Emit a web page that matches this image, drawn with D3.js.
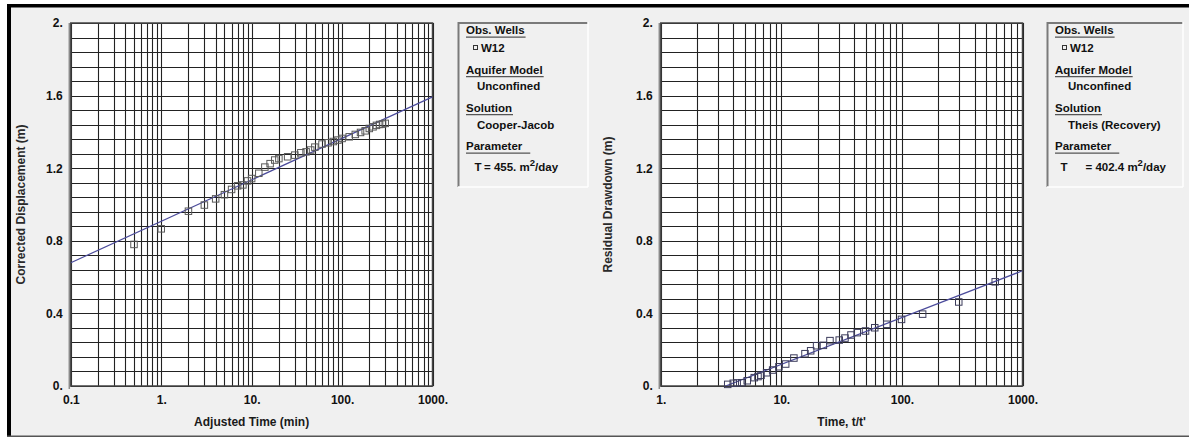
<!DOCTYPE html>
<html>
<head>
<meta charset="utf-8">
<script src="https://cdn.jsdelivr.net/npm/d3@7"></script>
<style>
body { margin: 0; background: #fff; }
svg text { font-family: "Liberation Sans", Arial, sans-serif; font-weight: bold; }
</style>
</head>
<body>
<svg id="chart" width="1189" height="439"></svg>
<script>
// left plot: Cooper-Jacob, corrected displacement vs adjusted time
const cjTime = [0.5, 1, 2, 3, 4, 5, 6, 7, 8, 9, 10, 12, 14, 16, 18, 20, 25, 30, 35, 40, 45, 50,
    60, 70, 80, 90, 100, 120, 140, 160, 180, 200, 220, 240, 260, 280, 300];
const cjDisp = [0.78, 0.866, 0.963, 0.997, 1.031, 1.054, 1.083, 1.103, 1.108, 1.13, 1.143, 1.172,
    1.206, 1.225, 1.245, 1.253, 1.263, 1.272, 1.285, 1.29, 1.3, 1.316, 1.333, 1.34, 1.347, 1.355,
    1.364, 1.373, 1.386, 1.397, 1.406, 1.419, 1.428, 1.436, 1.441, 1.443, 1.447];
const cjFitTime = [0.1, 1000];
const cjFitDisp = [0.679, 1.593];
const cjXLabels = ["0.1", "1.", "10.", "100.", "1000."];

// right plot: Theis recovery, residual drawdown vs t/t'
const recRatio = [3.59, 3.99, 4.3, 4.69, 5.21, 5.96, 6.4, 6.78, 7.55, 8.47, 9.55, 10.86, 12.7,
    15.7, 17.5, 19.6, 22.3, 25.3, 30.2, 33.7, 37.8, 42.6, 49.9, 59.5, 74.9, 99.2, 148.5, 296, 594];
const recDraw = [0.009, 0.015, 0.017, 0.018, 0.029, 0.046, 0.052, 0.059, 0.073, 0.088, 0.106,
    0.121, 0.154, 0.178, 0.194, 0.222, 0.224, 0.25, 0.253, 0.264, 0.281, 0.294, 0.303, 0.321,
    0.34, 0.367, 0.396, 0.463, 0.574];
const recFitRatio = [3.45, 1000];
const recFitDraw = [0, 0.635];
const recXLabels = ["1.", "10.", "100.", "1000."];

const yTicks = [0, 0.4, 0.8, 1.2, 1.6, 2];
const yLabels = ["0.", "0.4", "0.8", "1.2", "1.6", "2."];
const yGrid = d3.range(0, 25).map(i => i * 0.08).concat([2]);

const svg = d3.select("#chart");

// frame and background
svg.append("rect").attr("x", 7).attr("y", 4).attr("width", 1182).attr("height", 433).attr("fill", "#f0f0f0");
svg.append("rect").attr("x", 7).attr("y", 4).attr("width", 1182).attr("height", 3.5).attr("fill", "#000");
svg.append("rect").attr("x", 7).attr("y", 4).attr("width", 4).attr("height", 433).attr("fill", "#000");
svg.append("rect").attr("x", 7).attr("y", 435.5).attr("width", 1182).attr("height", 1.5).attr("fill", "#555");

const drawPanel = (p) => {
    const x = d3.scaleLog().domain(p.xDomain).range([p.left, p.right]);
    const y = d3.scaleLinear().domain([0, 2]).range([386, 23]);
    const g = svg.append("g");

    g.append("rect")
        .attr("x", p.left).attr("y", 23)
        .attr("width", p.right - p.left).attr("height", 363)
        .attr("fill", "#fff");

    const clipId = "clip" + p.id;
    g.append("clipPath").attr("id", clipId).append("rect")
        .attr("x", p.left).attr("y", 23)
        .attr("width", p.right - p.left).attr("height", 363);

    // grid
    g.append("g").selectAll("line").data(x.ticks()).enter().append("line")
        .attr("x1", d => Math.round(x(d)) + 0.5).attr("x2", d => Math.round(x(d)) + 0.5)
        .attr("y1", 23).attr("y2", 386)
        .attr("stroke", "#222").attr("stroke-width", 1.1);
    g.append("g").selectAll("line").data(yGrid).enter().append("line")
        .attr("x1", p.left).attr("x2", p.right)
        .attr("y1", d => Math.round(y(d)) + 0.5).attr("y2", d => Math.round(y(d)) + 0.5)
        .attr("stroke", "#222").attr("stroke-width", 1.1);

    // plot frame
    g.append("rect")
        .attr("x", p.left).attr("y", 23)
        .attr("width", p.right - p.left).attr("height", 363)
        .attr("fill", "none").attr("stroke", "#444").attr("stroke-width", 1.5);
    g.append("line")
        .attr("x1", p.left - 1.5).attr("x2", p.left - 1.5).attr("y1", 23).attr("y2", 389)
        .attr("stroke", "#8a8a8a").attr("stroke-width", 1.5);

    // axes
    const yAxis = d3.axisLeft(y).tickValues(yTicks).tickSize(0).tickPadding(8)
        .tickFormat((d, i) => yLabels[i]);
    g.append("g").attr("transform", `translate(${p.left},0)`).call(yAxis)
        .call(a => a.select(".domain").remove())
        .selectAll("text").attr("font-size", 12).attr("fill", "#111")
        .style("font-family", "'Liberation Sans', Arial, sans-serif").style("font-weight", "bold");

    const xTickVals = p.xLabels.map(s => parseFloat(s));
    const xAxis = d3.axisBottom(x).tickValues(xTickVals).tickSize(0).tickPadding(9)
        .tickFormat((d, i) => p.xLabels[i]);
    g.append("g").attr("transform", "translate(0,386)").call(xAxis)
        .call(a => a.select(".domain").remove())
        .selectAll("text").attr("font-size", 12).attr("fill", "#111")
        .style("font-family", "'Liberation Sans', Arial, sans-serif").style("font-weight", "bold");

    g.append("text")
        .attr("x", (p.left + p.right) / 2).attr("y", 426)
        .attr("text-anchor", "middle").attr("font-size", 12).attr("fill", "#1a1a1a")
        .text(p.xTitle);
    g.append("text")
        .attr("transform", `translate(${p.left - p.yTitleOff},204.5) rotate(-90)`)
        .attr("text-anchor", "middle").attr("font-size", 12).attr("fill", "#2a2a2a")
        .text(p.yTitle);

    // fitted line
    const fit = p.fitX.map((v, i) => [v, p.fitY[i]]);
    g.append("path").datum(fit)
        .attr("clip-path", `url(#${clipId})`)
        .attr("d", d3.line().x(d => x(d[0])).y(d => y(d[1])))
        .attr("fill", "none").attr("stroke", "#4c4c9c").attr("stroke-width", 1.2);

    // observations
    const pts = p.xs.map((v, i) => [v, p.ys[i]]);
    g.append("g").selectAll("rect").data(pts).enter().append("rect")
        .attr("x", d => x(d[0]) - 3.25).attr("y", d => y(d[1]) - 3.25)
        .attr("width", 6.5).attr("height", 6.5)
        .attr("fill", "none").attr("stroke", p.markColor).attr("stroke-width", 1);

    // legend box
    const L = p.legend;
    const lg = svg.append("g");
    lg.append("line").attr("x1", L.x).attr("x2", L.x + L.w).attr("y1", 23).attr("y2", 23)
        .attr("stroke", "#7a7a7a").attr("stroke-width", 2);
    lg.append("line").attr("x1", L.x + 0.5).attr("x2", L.x + 0.5).attr("y1", 22).attr("y2", 187)
        .attr("stroke", "#7a7a7a").attr("stroke-width", 2);
    lg.append("line").attr("x1", L.x + L.w).attr("x2", L.x + L.w).attr("y1", 22).attr("y2", 187)
        .attr("stroke", "#fff").attr("stroke-width", 1.5);
    lg.append("line").attr("x1", L.x).attr("x2", L.x + L.w).attr("y1", 187).attr("y2", 187)
        .attr("stroke", "#fff").attr("stroke-width", 1.5);

    const fs = 11.5;
    const heads = [["Obs. Wells", 34, 1], ["Aquifer Model", 73.5, 1], ["Solution", 111.5, 1], ["Parameter", 150, 8]];
    heads.forEach(([t, by, extra]) => {
        const tx = lg.append("text").attr("x", L.x + 8).attr("y", by)
            .attr("font-size", fs).attr("fill", "#111").text(t);
        const w = tx.node().getComputedTextLength();
        lg.append("line").attr("x1", L.x + 8).attr("x2", L.x + 8 + w + extra)
            .attr("y1", by + 3.2).attr("y2", by + 3.2)
            .attr("stroke", "#555").attr("stroke-width", 1.3);
    });
    lg.append("rect").attr("x", L.x + 15.5).attr("y", 45.5).attr("width", 4).attr("height", 4)
        .attr("fill", "none").attr("stroke", "#333").attr("stroke-width", 1);
    lg.append("text").attr("x", L.x + 23).attr("y", 51.5).attr("font-size", fs).attr("fill", "#111").text("W12");
    lg.append("text").attr("x", L.x + L.indent).attr("y", 90).attr("font-size", fs).attr("fill", "#111").text("Unconfined");
    lg.append("text").attr("x", L.x + L.indent).attr("y", 128.5).attr("font-size", fs).attr("fill", "#111").text(p.solution);

    const par = lg.append("text").attr("y", 171).attr("font-size", fs).attr("fill", "#111");
    par.append("tspan").attr("x", L.x + L.parX).text(p.param[0]);
    par.append("tspan").attr("x", L.x + L.parX2).text(p.param[1]);
    par.append("tspan").attr("dy", -5).attr("font-size", 9.5).text("2");
    par.append("tspan").attr("dy", 5).text("/day");
};

drawPanel({
    id: "L", left: 70.8, right: 432.5, xDomain: [0.1, 1000], xLabels: cjXLabels,
    xs: cjTime, ys: cjDisp, fitX: cjFitTime, fitY: cjFitDisp, markColor: "#5a5a5a",
    xTitle: "Adjusted Time (min)", yTitle: "Corrected Displacement (m)", yTitleOff: 46,
    solution: "Cooper-Jacob", param: ["T", "= 455. m"],
    legend: { x: 458, w: 130, indent: 19, parX: 16.5, parX2: 26 }
});

drawPanel({
    id: "R", left: 660.8, right: 1022.5, xDomain: [1, 1000], xLabels: recXLabels,
    xs: recRatio, ys: recDraw, fitX: recFitRatio, fitY: recFitDraw, markColor: "#3c3c5c",
    xTitle: "Time, t/t'", yTitle: "Residual Drawdown (m)", yTitleOff: 49,
    solution: "Theis (Recovery)", param: ["T", "= 402.4 m"],
    legend: { x: 1047, w: 136, indent: 21, parX: 13.5, parX2: 38.5 }
});
</script>
</body>
</html>
